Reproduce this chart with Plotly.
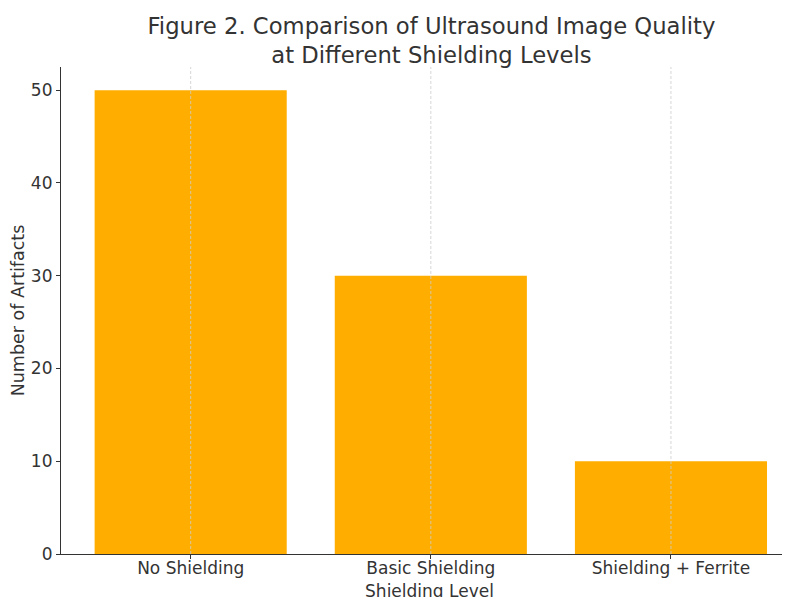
import plotly.graph_objects as go

categories = ["No Shielding", "Basic Shielding", "Shielding + Ferrite"]
artifacts = [50, 30, 10]
y_ticks = [0, 10, 20, 30, 40, 50]

fig = go.Figure(go.Bar(
    x=categories,
    y=artifacts,
    width=0.8,
    marker_color="#ffae00",
    marker_line_width=0,
))

font_color = "#333333"

fig.update_layout(
    width=790,
    height=597,
    paper_bgcolor="white",
    plot_bgcolor="white",
    font=dict(family="DejaVu Sans", size=17, color=font_color),
    title=dict(
        text="Figure 2. Comparison of Ultrasound Image Quality<br>at Different Shielding Levels",
        x=0.536, xanchor="center",
        y=0.957, yanchor="top",
        font=dict(size=22.7, color=font_color),
        automargin=False,
    ),
    # the page body adds an 8px offset, so margins are trimmed to match
    margin=dict(l=53, r=0, t=59, b=51),
    showlegend=False,
)

# dashed vertical grid drawn on top of the bars, as in the source
for c in categories:
    fig.add_shape(
        type="line", xref="x", yref="paper",
        x0=c, x1=c, y0=0, y1=1,
        line=dict(color="#cccccc", width=0.8, dash="3px,2px"),
        layer="above",
    )

fig.update_xaxes(
    type="category",
    range=[-0.54, 2.529],
    automargin=False,
    showline=True, linecolor="#333333", linewidth=1.2,
    ticks="outside", ticklen=4, tickcolor="#333333",
    ticklabelstandoff=-6,
    showgrid=False,
    title=dict(text="Shielding Level", standoff=8, font=dict(size=17)),
    tickfont=dict(size=17),
)

fig.update_yaxes(
    range=[0, 52.5],
    tickvals=y_ticks,
    automargin=False,
    showline=True, linecolor="#333333", linewidth=1.2,
    ticks="outside", ticklen=4, tickcolor="#333333",
    showgrid=False, zeroline=False,
    title=dict(text="Number of Artifacts", standoff=3, font=dict(size=17.5)),
    tickfont=dict(size=17),
)

fig.write_html("out.html")
